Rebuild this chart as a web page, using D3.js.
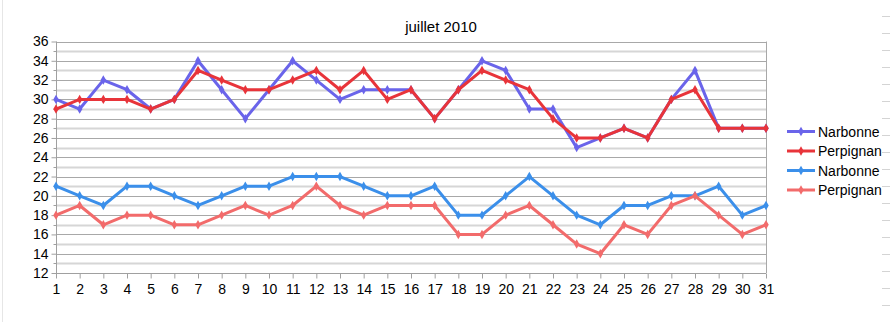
<!DOCTYPE html>
<html>
<head>
<meta charset="utf-8">
<script src="https://cdn.jsdelivr.net/npm/d3@7"></script>
<style>
  html, body { margin: 0; padding: 0; background: #fff; }
  svg { display: block; font-family: "Liberation Sans", Arial, sans-serif; }
</style>
</head>
<body>
<svg id="chart" width="890" height="322"></svg>
<script>
// Daily temperatures, July 2010
const days = d3.range(1, 32);
const narbonneMax = [30,29,32,31,29,30,34,31,28,31,34,32,30,31,31,31,28,31,34,33,29,29,25,26,27,26,30,33,27,27,27];
const perpignanMax = [29,30,30,30,29,30,33,32,31,31,32,33,31,33,30,31,28,31,33,32,31,28,26,26,27,26,30,31,27,27,27];
const narbonneMin = [21,20,19,21,21,20,19,20,21,21,22,22,22,21,20,20,21,18,18,20,22,20,18,17,19,19,20,20,21,18,19];
const perpignanMin = [18,19,17,18,18,17,17,18,19,18,19,21,19,18,19,19,19,16,16,18,19,17,15,14,17,16,19,20,18,16,17];
const yTicks = d3.range(12, 37, 2);
const seriesNames = ["Narbonne", "Perpignan", "Narbonne", "Perpignan"];
const seriesColors = ["#6a64ea", "#e8343a", "#3b8fea", "#f26b6b"];
const title = "juillet 2010";

const series = [narbonneMax, perpignanMax, narbonneMin, perpignanMin].map((vals, i) => ({
  name: seriesNames[i], color: seriesColors[i], values: vals
}));

const svg = d3.select("#chart");
const plotLeft = 56, plotRight = 766, plotTop = 41.5, plotBottom = 273;

const x = d3.scalePoint().domain(days).range([plotLeft, plotRight]);
const y = d3.scaleLinear().domain([12, 36]).range([plotBottom, plotTop]);

// faint frame pieces of the surrounding sheet
svg.append("line").attr("x1", 2.5).attr("x2", 2.5).attr("y1", 0).attr("y2", 322)
  .attr("stroke", "#e6e6e6").attr("stroke-width", 1);
svg.append("g").selectAll("line").data(d3.range(16.5, 322, 17)).join("line")
  .attr("x1", 882).attr("x2", 890).attr("y1", d => d).attr("y2", d => d)
  .attr("stroke", "#d4d4d4").attr("stroke-width", 1);

// minor gridlines (odd values)
svg.append("g").selectAll("line").data(d3.range(13, 36, 2)).join("line")
  .attr("x1", plotLeft).attr("x2", plotRight)
  .attr("y1", d => Math.round(y(d)) + 0.5).attr("y2", d => Math.round(y(d)) + 0.5)
  .attr("stroke", "#d6d6d6").attr("stroke-width", 2);

// major gridlines
svg.append("g").selectAll("line").data(yTicks).join("line")
  .attr("x1", plotLeft).attr("x2", plotRight)
  .attr("y1", d => Math.round(y(d)) + 0.5).attr("y2", d => Math.round(y(d)) + 0.5)
  .attr("stroke", "#a8a8a8").attr("stroke-width", 1);

// right border of plot area
svg.append("line").attr("x1", plotRight + 0.5).attr("x2", plotRight + 0.5).attr("y1", plotTop).attr("y2", plotBottom)
  .attr("stroke", "#a8a8a8");

// y axis
const yAxis = svg.append("g").attr("transform", `translate(${plotLeft + 0.5},0)`)
  .call(d3.axisLeft(y).tickValues(yTicks).tickSize(5).tickPadding(3).tickFormat(d3.format("d")));
yAxis.select(".domain").attr("stroke", "#a0a0a0").attr("d", `M0,${plotTop}V${plotBottom}`);
yAxis.selectAll(".tick line").attr("stroke", "#a0a0a0");
yAxis.selectAll(".tick text").attr("font-size", 14).attr("fill", "#000")
  .attr("font-family", "'Liberation Sans', Arial, sans-serif");
yAxis.append("g").selectAll("line").data(d3.range(13, 36, 2)).join("line")
  .attr("x1", -3).attr("x2", 0)
  .attr("y1", d => Math.round(y(d)) + 0.5).attr("y2", d => Math.round(y(d)) + 0.5)
  .attr("stroke", "#a0a0a0");

// x axis
const xAxis = svg.append("g").attr("transform", `translate(0,${plotBottom + 0.5})`)
  .call(d3.axisBottom(x).tickSize(5).tickPadding(6));
xAxis.select(".domain").attr("stroke", "#a0a0a0").attr("d", `M${plotLeft},0H${plotRight}`);
xAxis.selectAll(".tick line").attr("stroke", "#a0a0a0");
xAxis.selectAll(".tick text").attr("font-size", 14).attr("fill", "#000")
  .attr("font-family", "'Liberation Sans', Arial, sans-serif");

// title
svg.append("text").attr("x", 441).attr("y", 32).attr("text-anchor", "middle")
  .attr("font-size", 15).attr("fill", "#000").text(title);

// lines and markers
const line = d3.line().x((d, i) => x(days[i])).y(d => y(d));
const diamond = d3.symbol().type(d3.symbolDiamond).size(26);

series.forEach(s => {
  const g = svg.append("g");
  g.append("path").datum(s.values).attr("d", line)
    .attr("fill", "none").attr("stroke", s.color).attr("stroke-width", 3)
    .attr("stroke-linejoin", "round");
  g.selectAll("path.m").data(s.values).join("path").attr("class", "m")
    .attr("transform", (d, i) => `translate(${x(days[i])},${y(d)})`)
    .attr("d", diamond).attr("fill", s.color);
});

// legend
const legend = svg.append("g");
series.forEach((s, i) => {
  const ly = 131.5 + i * 19.5;
  legend.append("line").attr("x1", 787).attr("x2", 815).attr("y1", ly).attr("y2", ly)
    .attr("stroke", s.color).attr("stroke-width", 3);
  legend.append("path").attr("transform", `translate(801,${ly})`).attr("d", diamond).attr("fill", s.color);
  legend.append("text").attr("x", 818).attr("y", ly + 5).attr("font-size", 14).attr("fill", "#000").text(s.name);
});
</script>
</body>
</html>
